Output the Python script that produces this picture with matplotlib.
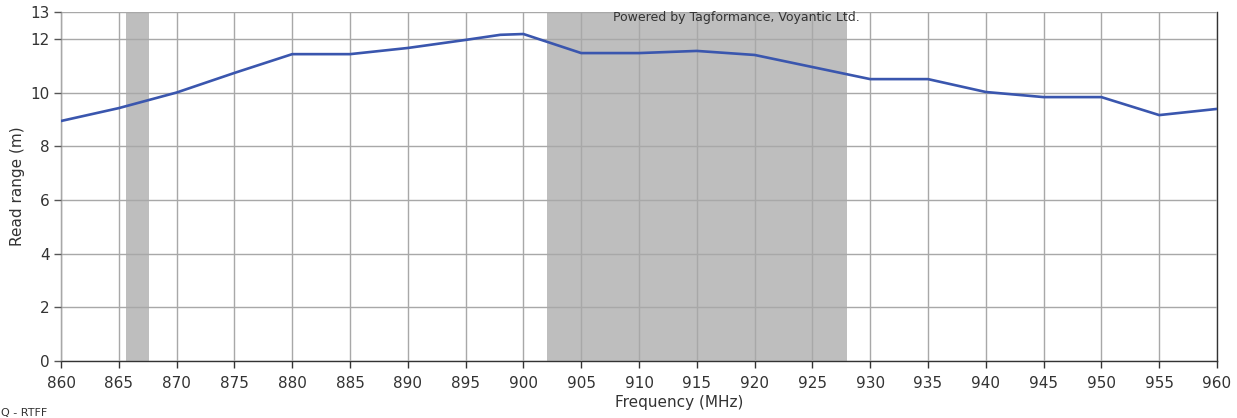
import matplotlib
matplotlib.use("Agg")
import matplotlib.pyplot as plt

freq = [860, 865, 870, 875, 880, 885, 890, 895, 898, 900, 905, 910, 915, 920, 925, 930, 935, 940, 945, 950, 955, 960]
read_range = [8.94, 9.42, 10.0, 10.73, 11.43, 11.43, 11.66, 11.96, 12.15, 12.18, 11.47, 11.47, 11.55, 11.4, 10.95, 10.5, 10.5, 10.02, 9.83, 9.83, 9.16, 9.39]
bands = [(865.6, 867.6), (902.0, 928.0)]
xticks = list(range(860, 961, 5))
yticks = [0, 2, 4, 6, 8, 10, 12, 13]

plt.rcParams['font.family'] = ['DejaVu Sans']
fig = plt.figure(figsize=(12.37, 4.18), dpi=100)
ax = fig.add_axes([61/1237, 1-361/418, (1217-61)/1237, (361-12)/418])

for a, b in bands:
    ax.axvspan(a, b, color='#BEBEBE', zorder=1, lw=0)

ax.plot(freq, read_range, color='#3A56AE', lw=1.9, zorder=3)

ax.set_xlim(860, 960)
ax.set_ylim(0, 13)
ax.set_xticks(xticks)
ax.set_yticks(yticks)
ax.grid(True, color='#A8A8A8', lw=1.0, zorder=2)
ax.set_axisbelow(False)
for l in ax.get_xgridlines() + ax.get_ygridlines():
    l.set_zorder(2)

ax.tick_params(axis='both', labelsize=11, colors='#333333', length=5, width=1, pad=3)
ax.tick_params(axis='x', pad=6)
ax.tick_params(axis='y', color='#555555')
ax.spines['top'].set_visible(False)
ax.spines['left'].set_color('#909090')
ax.spines['bottom'].set_color('#333333')
ax.spines['right'].set_color('#333333')
for s in ax.spines.values():
    s.set_linewidth(1.0)

ax.set_xlabel('Frequency (MHz)', fontsize=11, color='#333333', labelpad=3, x=0.535)
ax.set_ylabel('Read range (m)', fontsize=11, color='#333333', labelpad=4)

ax.text(0.584, 0.985, 'Powered by Tagformance, Voyantic Ltd.', transform=ax.transAxes,
        fontsize=9, color='#333333', ha='center', va='center', zorder=5)
fig.text(0.001, 0.001, 'Q - RTFF', fontsize=8, color='#333333', ha='left', va='bottom')

fig.savefig('out.png', dpi=100)
